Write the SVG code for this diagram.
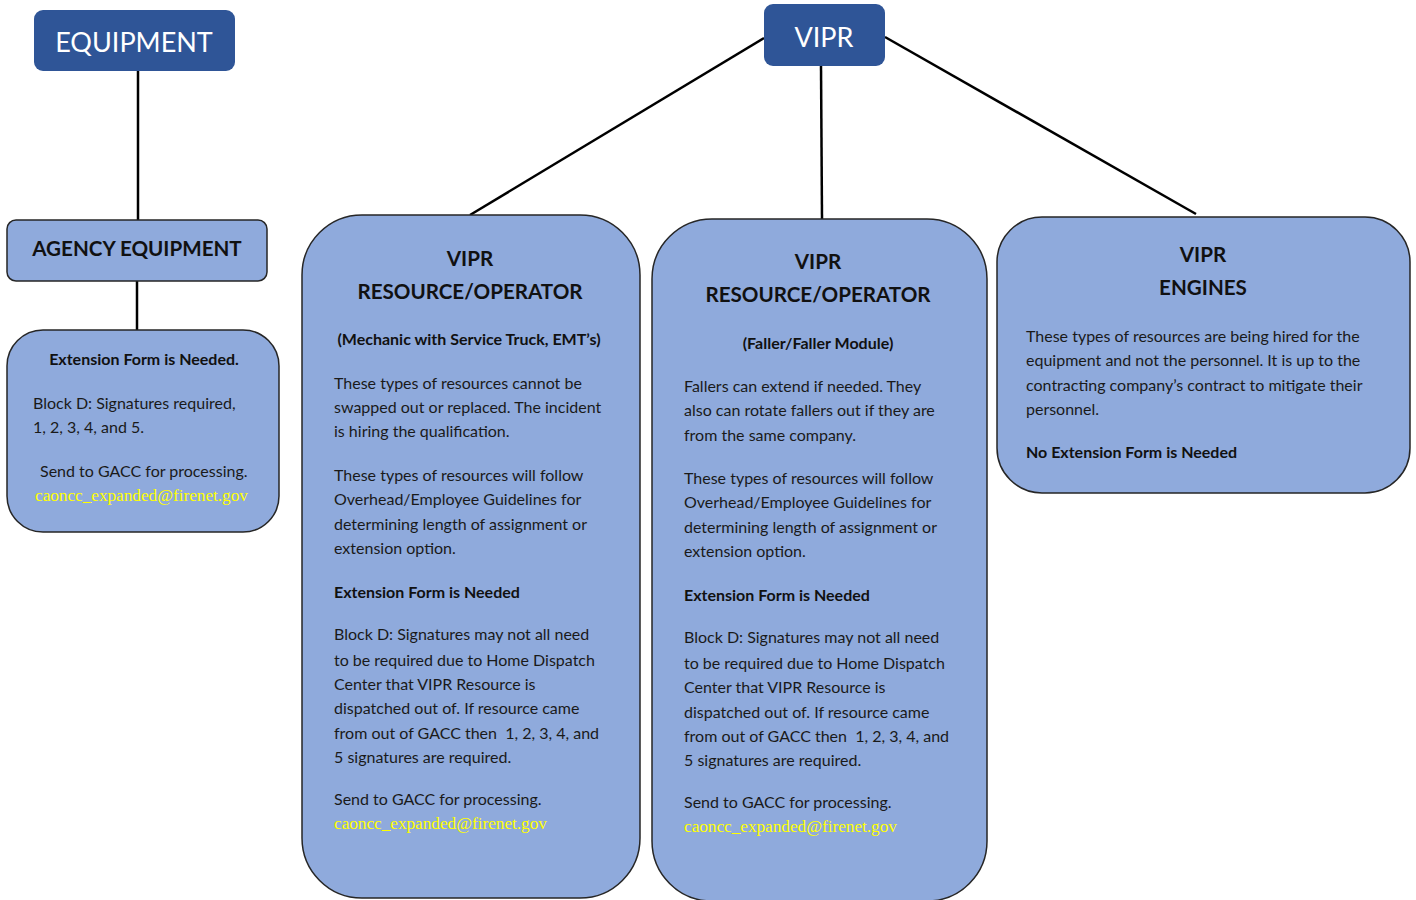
<svg xmlns="http://www.w3.org/2000/svg" width="1416" height="900" viewBox="0 0 1416 900">
<defs>
<style>
.dark{fill:#2F5597;}
.box{fill:#8FAADC;stroke:#262626;stroke-width:1.5;}
.wt{font-family:Lato,"Open Sans","Liberation Sans",sans-serif;fill:#FFFFFF;font-size:27px;text-anchor:middle;}
.h{font-family:Lato,"Liberation Sans",sans-serif;font-weight:bold;fill:#111111;font-size:20.6px;text-anchor:middle;}
.b{font-family:Lato,"Liberation Sans",sans-serif;font-weight:bold;fill:#111111;font-size:16px;}
.t{font-family:Lato,"Liberation Sans",sans-serif;fill:#1a1a1a;font-size:16px;}
.m{font-family:"Liberation Serif","Times New Roman",serif;fill:#FFFF00;font-size:17.2px;}
.c{text-anchor:middle;}
.ln{stroke:#000000;stroke-width:2.5;fill:none;}
</style>
</defs>
<g id="connectors">
<line class="ln" x1="138" y1="71" x2="138" y2="220"/>
<line class="ln" x1="137" y1="281" x2="137" y2="330"/>
<line class="ln" x1="764" y1="38" x2="470" y2="215"/>
<line class="ln" x1="821" y1="66" x2="822" y2="219"/>
<line class="ln" x1="885" y1="37" x2="1196" y2="214"/>
</g>
<g id="equipment">
<rect class="dark" x="34" y="10" width="201" height="61" rx="9"/>
<text class="wt" x="134" y="52">EQUIPMENT</text>
</g>
<g id="vipr">
<rect class="dark" x="764" y="4" width="121" height="62" rx="9"/>
<text class="wt" x="824" y="47">VIPR</text>
</g>
<g id="agency-equipment">
<rect class="box" x="7" y="220" width="260" height="61" rx="9"/>
<text class="h" x="137" y="256">AGENCY EQUIPMENT</text>
</g>
<g id="agency-extension">
<rect class="box" x="7" y="330" width="272" height="202" rx="36"/>
<text class="b c" x="144" y="365">Extension Form is Needed.</text>
<text class="t" x="33" y="409">Block D: Signatures required,</text>
<text class="t" x="33" y="433">1, 2, 3, 4, and 5.</text>
<text class="t" x="40" y="477">Send to GACC for processing.</text>
<text class="m" x="35" y="501">caoncc_expanded@firenet.gov</text>
</g>
<g id="vipr-resource-mechanic">
<rect class="box" x="302" y="215" width="338" height="683" rx="60"/>
<text class="h" x="470" y="266">VIPR</text>
<text class="h" x="470" y="299">RESOURCE/OPERATOR</text>
<text class="b c" x="469" y="345">(Mechanic with Service Truck, EMT’s)</text>
<text class="t" x="334" y="389">These types of resources cannot be</text>
<text class="t" x="334" y="413">swapped out or replaced. The incident</text>
<text class="t" x="334" y="437">is hiring the qualification.</text>
<text class="t" x="334" y="481">These types of resources will follow</text>
<text class="t" x="334" y="505">Overhead/Employee Guidelines for</text>
<text class="t" x="334" y="530">determining length of assignment or</text>
<text class="t" x="334" y="554">extension option.</text>
<text class="b" x="334" y="598">Extension Form is Needed</text>
<text class="t" x="334" y="640">Block D: Signatures may not all need</text>
<text class="t" x="334" y="666">to be required due to Home Dispatch</text>
<text class="t" x="334" y="690">Center that VIPR Resource is</text>
<text class="t" x="334" y="714">dispatched out of. If resource came</text>
<text class="t" x="334" y="739">from out of GACC then&#160; 1, 2, 3, 4, and</text>
<text class="t" x="334" y="763">5 signatures are required.</text>
<text class="t" x="334" y="805">Send to GACC for processing.</text>
<text class="m" x="334" y="829">caoncc_expanded@firenet.gov</text>
</g>
<g id="vipr-resource-faller">
<rect class="box" x="652" y="219" width="335" height="682" rx="60"/>
<text class="h" x="818" y="269">VIPR</text>
<text class="h" x="818" y="302">RESOURCE/OPERATOR</text>
<text class="b c" x="818" y="349">(Faller/Faller Module)</text>
<text class="t" x="684" y="392">Fallers can extend if needed. They</text>
<text class="t" x="684" y="416">also can rotate fallers out if they are</text>
<text class="t" x="684" y="441">from the same company.</text>
<text class="t" x="684" y="484">These types of resources will follow</text>
<text class="t" x="684" y="508">Overhead/Employee Guidelines for</text>
<text class="t" x="684" y="533">determining length of assignment or</text>
<text class="t" x="684" y="557">extension option.</text>
<text class="b" x="684" y="601">Extension Form is Needed</text>
<text class="t" x="684" y="643">Block D: Signatures may not all need</text>
<text class="t" x="684" y="669">to be required due to Home Dispatch</text>
<text class="t" x="684" y="693">Center that VIPR Resource is</text>
<text class="t" x="684" y="718">dispatched out of. If resource came</text>
<text class="t" x="684" y="742">from out of GACC then&#160; 1, 2, 3, 4, and</text>
<text class="t" x="684" y="766">5 signatures are required.</text>
<text class="t" x="684" y="808">Send to GACC for processing.</text>
<text class="m" x="684" y="832">caoncc_expanded@firenet.gov</text>
</g>
<g id="vipr-engines">
<rect class="box" x="997" y="217" width="413" height="276" rx="45"/>
<text class="h" x="1203" y="262">VIPR</text>
<text class="h" x="1203" y="295">ENGINES</text>
<text class="t" x="1026" y="342">These types of resources are being hired for the</text>
<text class="t" x="1026" y="366">equipment and not the personnel. It is up to the</text>
<text class="t" x="1026" y="391">contracting company’s contract to mitigate their</text>
<text class="t" x="1026" y="415">personnel.</text>
<text class="b" x="1026" y="458">No Extension Form is Needed</text>
</g>
</svg>
